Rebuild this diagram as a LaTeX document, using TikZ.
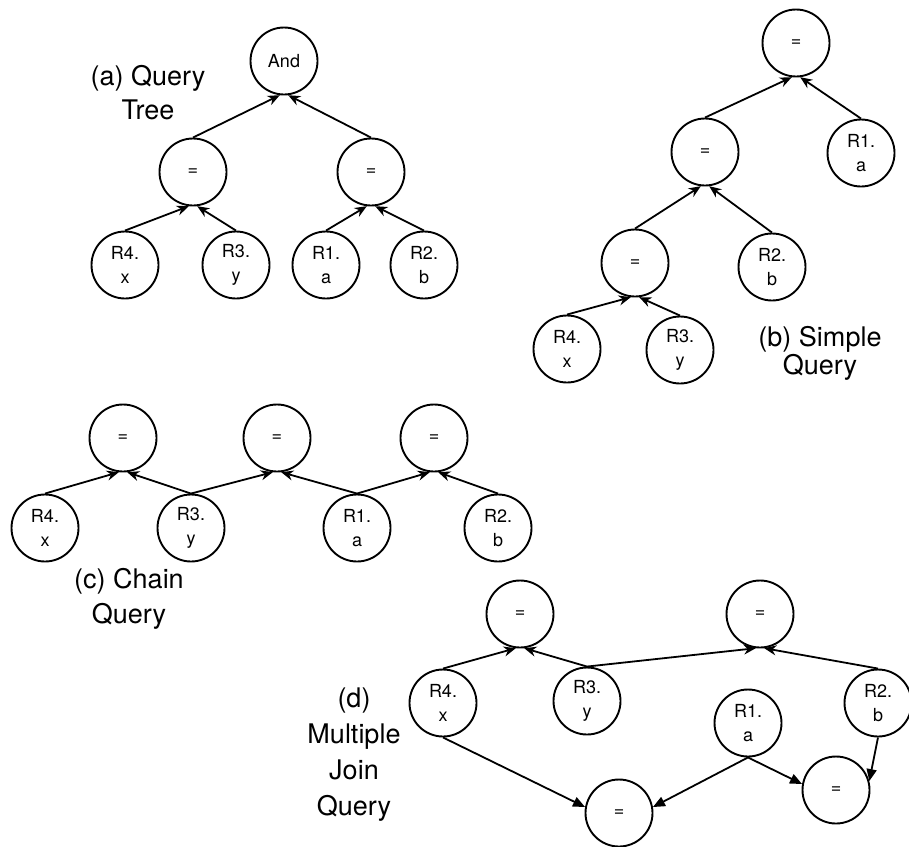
\documentclass[tikz,border=0pt]{standalone}
\usepackage{fontspec}
\setmainfont{TeX Gyre Heros}
\usetikzlibrary{arrows.meta}

\begin{document}
\begin{tikzpicture}[
  x=1pt, y=-1pt,
  >={Stealth[length=12pt, width=10pt]},
  every node/.style={align=center},
  opnode/.style={circle, draw, line width=1.9pt, inner sep=0pt, minimum size=67pt,
                 font=\fontsize{18}{24}\selectfont},
  relnode/.style={opnode},
  qlabel/.style={inner sep=0pt, font=\fontsize{27}{#1}\selectfont},
  treearrow/.style={->, line width=1.8pt},
  joinarrow/.style={-{Triangle[length=12pt, width=10pt]}, line width=1.8pt}
]
\useasboundingbox (0,0) rectangle (909,846);

% --- (a) query tree ---
\node[opnode] (aAnd) at (284,61) {And};
\node[opnode] (aEqL) at (193,172) {=};
\node[opnode] (aEqR) at (371,172) {=};
\node[relnode] (aR4) at (125,265) {R4.\\x};
\node[relnode] (aR3) at (236,265) {R3.\\y};
\node[relnode] (aR1) at (326,265) {R1.\\a};
\node[relnode] (aR2) at (424,265) {R2.\\b};
\node[qlabel=34] (aCap) at (148,93) {(a) Query\\Tree};

\foreach \src/\dst/\ang in {aEqL/aAnd/263, aEqR/aAnd/277,
                            aR4/aEqL/263, aR3/aEqL/277,
                            aR1/aEqR/263, aR2/aEqR/277}
  \draw[treearrow] (\src.north) -- (\dst.\ang);

% --- (b) simple query ---
\node[opnode] (bTop) at (796,43) {=};
\node[opnode] (bMid) at (705,152) {=};
\node[opnode] (bLow) at (635,263) {=};
\node[relnode] (bR1) at (861,153) {R1.\\a};
\node[relnode] (bR2) at (772,267) {R2.\\b};
\node[relnode] (bR4) at (567,349) {R4.\\x};
\node[relnode] (bR3) at (680,350) {R3.\\y};
\node[qlabel=28] (bCap) at (820,353) {(b) Simple\\Query};

\foreach \src/\dst/\ang in {bMid/bTop/263, bR1/bTop/277,
                            bLow/bMid/263, bR2/bMid/277,
                            bR4/bLow/263, bR3/bLow/277}
  \draw[treearrow] (\src.north) -- (\dst.\ang);

% --- (c) chain query ---
\node[opnode] (cEq1) at (123,438) {=};
\node[opnode] (cEq2) at (277,438) {=};
\node[opnode] (cEq3) at (434,438) {=};
\node[relnode] (cR4) at (45,528) {R4.\\x};
\node[relnode] (cR3) at (191,528) {R3.\\y};
\node[relnode] (cR1) at (357,528) {R1.\\a};
\node[relnode] (cR2) at (498,528) {R2.\\b};
\node[qlabel=35] (cCap) at (129,599) {(c) Chain\\Query};

\foreach \src/\dst/\ang in {cR4/cEq1/263, cR3/cEq1/277,
                            cR3/cEq2/263, cR1/cEq2/277,
                            cR1/cEq3/263, cR2/cEq3/277}
  \draw[treearrow] (\src.north) -- (\dst.\ang);

% --- (d) multiple join query ---
\node[opnode] (dEq1) at (520,614) {=};
\node[opnode] (dEq2) at (760,614) {=};
\node[opnode] (dEq3) at (619,813) {=};
\node[opnode] (dEq4) at (836,790) {=};
\node[relnode] (dR4) at (443,703) {R4.\\x};
\node[relnode] (dR3) at (587,701) {R3.\\y};
\node[relnode] (dR2) at (878,703) {R2.\\b};
\node[relnode] (dR1) at (748,723) {R1.\\a};
\node[qlabel=36] (dCap) at (354,755) {(d)\\Multiple\\Join\\Query};

\foreach \src/\dst/\ang in {dR4/dEq1/263, dR3/dEq1/277,
                            dR3/dEq2/263, dR2/dEq2/277}
  \draw[treearrow] (\src.north) -- (\dst.\ang);

% lower joins share R1.a
\draw[joinarrow] (dR4.south) -- (dEq3.170);
\draw[joinarrow] (dR1.south) -- (dEq3.10);
\draw[joinarrow] (dR1.south) -- (dEq4.170);
\draw[joinarrow] (dR2.south) -- (dEq4.15);

\end{tikzpicture}
\end{document}
